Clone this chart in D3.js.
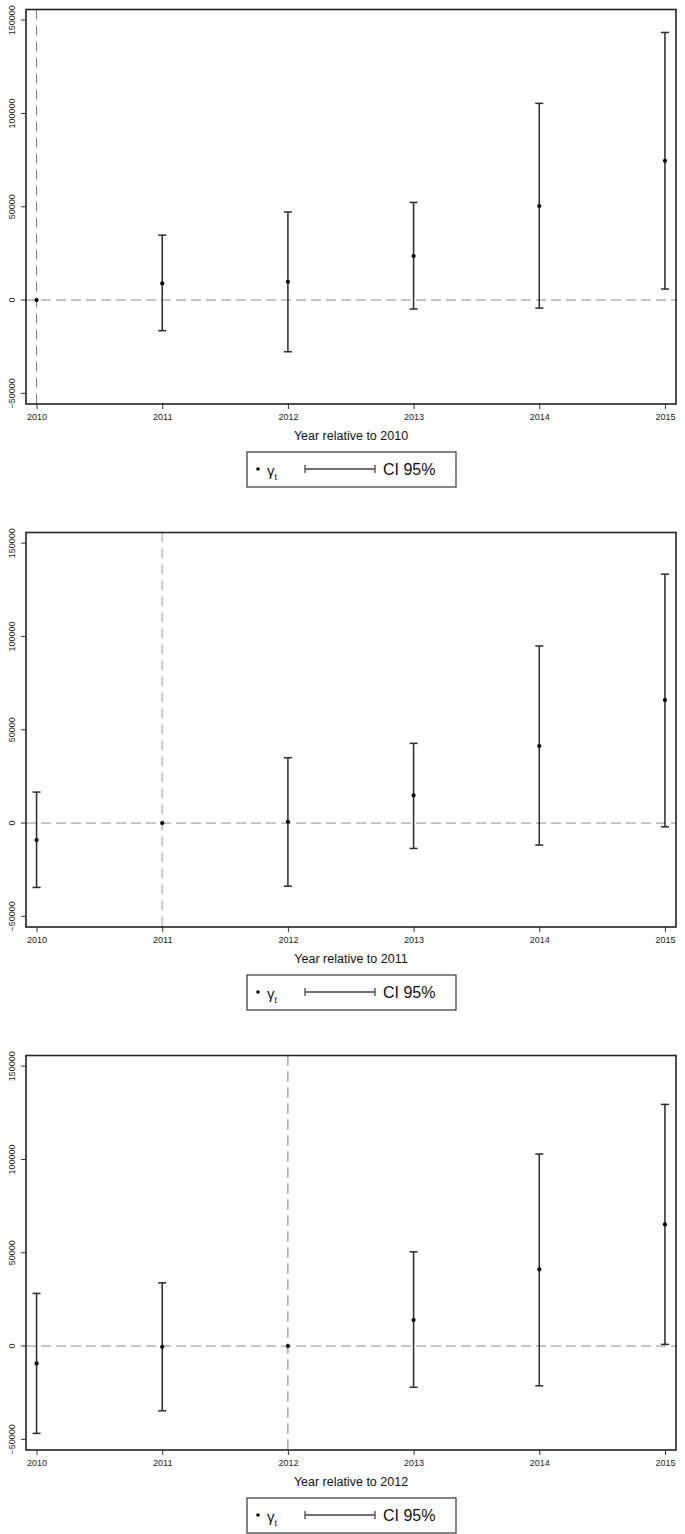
<!DOCTYPE html>
<html>
<head>
<meta charset="utf-8">
<title>Event study coefficients, three base years</title>
<script src="https://cdn.jsdelivr.net/npm/d3@7"></script>
<style>
  body { margin: 0; background: #fff; }
  text { font-family: "Liberation Sans", Arial, Helvetica, sans-serif; }
</style>
</head>
<body>
<script>
// years on the x axis
var years = [2010, 2011, 2012, 2013, 2014, 2015];
var yTicks = [-50000, 0, 50000, 100000, 150000];

// base year 2010 (reference year has no CI)
var coef2010 = [0, 8900, 9800, 23600, 50400, 74600];
var lo2010   = [null, -16400, -27700, -4800, -4300, 5900];
var hi2010   = [null, 34800, 47200, 52300, 105400, 143400];

// base year 2011
var coef2011 = [-9100, 0, 700, 14800, 41300, 65900];
var lo2011   = [-34500, null, -33800, -13600, -11800, -2000];
var hi2011   = [16600, null, 35000, 42700, 94900, 133400];

// base year 2012
var coef2012 = [-9300, -400, 0, 13900, 41100, 65200];
var lo2012   = [-46800, -34700, null, -22100, -21300, 900];
var hi2012   = [28200, 33900, null, 50500, 102900, 129500];

var panels = [
  {base: 2010, coef: coef2010, lo: lo2010, hi: hi2010, vcol: "#777", vw: 1},
  {base: 2011, coef: coef2011, lo: lo2011, hi: hi2011, vcol: "#c8c8c8", vw: 2},
  {base: 2012, coef: coef2012, lo: lo2012, hi: hi2012, vcol: "#777", vw: 1}
];

var W = 685, H = 1534, panelH = 523;

var svg = d3.select("body").append("svg")
    .attr("width", W)
    .attr("height", H);

var x = d3.scaleLinear().domain([2009.916, 2015.088]).range([26, 676]);
var y = d3.scaleLinear().domain([-55700, 155700]).range([404, 9.5]);

panels.forEach(function(p, k) {
  var g = svg.append("g").attr("transform", "translate(0," + (k * panelH) + ")");

  var rows = years.map(function(yr, i) {
    return {year: yr, coef: p.coef[i], lo: p.lo[i], hi: p.hi[i]};
  });

  // zero line and base-year line
  g.append("line")
      .attr("x1", x.range()[0]).attr("x2", x.range()[1])
      .attr("y1", y(0)).attr("y2", y(0))
      .attr("stroke", "#8c8c8c").attr("stroke-width", 1)
      .attr("stroke-dasharray", "10,5");
  g.append("line")
      .attr("x1", x(p.base)).attr("x2", x(p.base))
      .attr("y1", y.range()[1]).attr("y2", y.range()[0])
      .attr("stroke", p.vcol).attr("stroke-width", p.vw)
      .attr("stroke-dasharray", "10,6");

  // axes
  var xAxis = d3.axisBottom(x).tickValues(years).tickFormat(d3.format("d"))
      .tickSize(5).tickSizeOuter(0);
  var gx = g.append("g").attr("transform", "translate(0," + y.range()[0] + ")").call(xAxis);
  gx.select(".domain").remove();
  gx.selectAll("line").attr("stroke", "#333");
  gx.selectAll("text").attr("font-size", 9).attr("fill", "#222").attr("dy", "0.9em");

  var yAxis = d3.axisLeft(y).tickValues(yTicks).tickFormat(d3.format("d"))
      .tickSize(5).tickSizeOuter(0);
  var gy = g.append("g").attr("transform", "translate(" + x.range()[0] + ",0)").call(yAxis);
  gy.select(".domain").remove();
  gy.selectAll("line").attr("stroke", "#333");
  gy.selectAll("text")
      .attr("font-size", 9).attr("fill", "#222")
      .attr("x", 0).attr("dy", 0)
      .attr("text-anchor", "middle")
      .attr("transform", function(d) { return "translate(-11," + y(d) + ") rotate(-90)"; })
      .attr("y", 0);
  gy.selectAll(".tick").attr("transform", null);
  gy.selectAll(".tick line").attr("y1", function(d) { return y(d); }).attr("y2", function(d) { return y(d); });

  // plot frame
  g.append("rect")
      .attr("x", x.range()[0]).attr("y", y.range()[1])
      .attr("width", x.range()[1] - x.range()[0])
      .attr("height", y.range()[0] - y.range()[1])
      .attr("fill", "none").attr("stroke", "#222").attr("stroke-width", 1.6);

  // confidence intervals
  var ci = rows.filter(function(d) { return d.lo !== null; });
  var bars = g.selectAll("g.ci").data(ci).enter().append("g").attr("class", "ci")
      .attr("stroke", "#2a2a2a").attr("stroke-width", 1.5);
  bars.append("line")
      .attr("x1", function(d) { return x(d.year); }).attr("x2", function(d) { return x(d.year); })
      .attr("y1", function(d) { return y(d.lo); }).attr("y2", function(d) { return y(d.hi); });
  bars.append("line")
      .attr("x1", function(d) { return x(d.year) - 4; }).attr("x2", function(d) { return x(d.year) + 4; })
      .attr("y1", function(d) { return y(d.lo); }).attr("y2", function(d) { return y(d.lo); });
  bars.append("line")
      .attr("x1", function(d) { return x(d.year) - 4; }).attr("x2", function(d) { return x(d.year) + 4; })
      .attr("y1", function(d) { return y(d.hi); }).attr("y2", function(d) { return y(d.hi); });

  // point estimates
  g.selectAll("circle.pt").data(rows).enter().append("circle")
      .attr("class", "pt")
      .attr("cx", function(d) { return x(d.year); })
      .attr("cy", function(d) { return y(d.coef); })
      .attr("r", 2.1).attr("fill", "#000");

  // axis title
  var cx = (x.range()[0] + x.range()[1]) / 2;
  g.append("text")
      .attr("x", cx).attr("y", 440)
      .attr("text-anchor", "middle").attr("font-size", 12.5).attr("fill", "#111")
      .text("Year relative to " + p.base);

  // legend
  var lg = g.append("g").attr("transform", "translate(247,452)");
  lg.append("rect").attr("width", 209).attr("height", 35)
      .attr("fill", "#fff").attr("stroke", "#444").attr("stroke-width", 1.3);
  lg.append("circle").attr("cx", 11).attr("cy", 17).attr("r", 1.8).attr("fill", "#000");
  var lt = lg.append("text").attr("x", 20).attr("y", 24).attr("font-size", 15).attr("fill", "#111");
  lt.append("tspan").text("γ");
  lt.append("tspan").attr("font-size", 9).attr("dy", 4).text("t");
  lg.append("line").attr("x1", 58).attr("x2", 128).attr("y1", 17).attr("y2", 17)
      .attr("stroke", "#444").attr("stroke-width", 1.5);
  lg.append("line").attr("x1", 58).attr("x2", 58).attr("y1", 13).attr("y2", 21)
      .attr("stroke", "#444").attr("stroke-width", 1.3);
  lg.append("line").attr("x1", 128).attr("x2", 128).attr("y1", 13).attr("y2", 21)
      .attr("stroke", "#444").attr("stroke-width", 1.3);
  lg.append("text").attr("x", 136).attr("y", 23).attr("font-size", 16).attr("fill", "#111")
      .text("CI 95%");
});
</script>
</body>
</html>
